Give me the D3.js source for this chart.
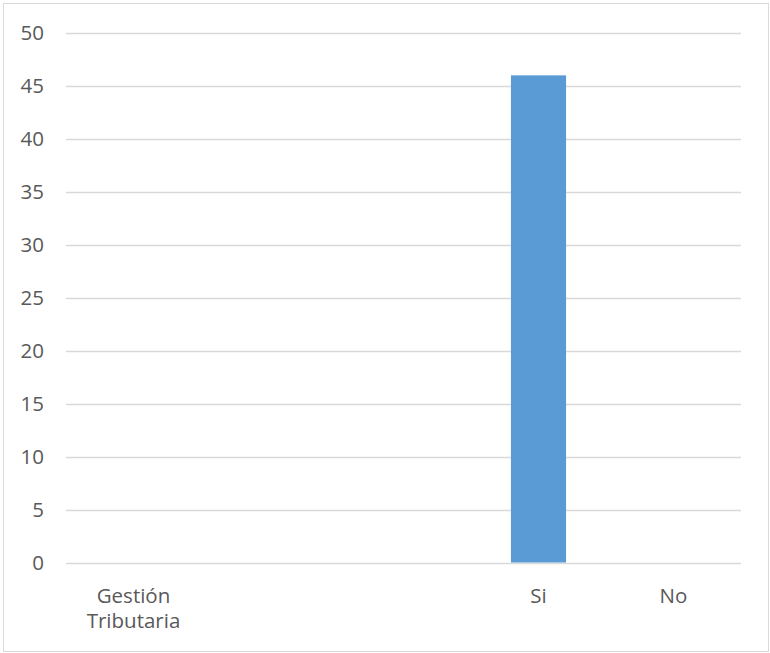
<!DOCTYPE html>
<html>
<head>
<meta charset="utf-8">
<script src="https://cdn.jsdelivr.net/npm/d3@7"></script>
<style>
  html, body { margin: 0; padding: 0; background: #fff; }
  svg text { font-family: "Open Sans", "Noto Sans", sans-serif; fill: #595959; }
</style>
</head>
<body>
<script>
// Survey result: answers to "Gestión Tributaria"
const categories = ["Gestión Tributaria", "", "", "Si", "No"];
const values = [0, 0, 0, 46, 0];
const yTicks = [0, 5, 10, 15, 20, 25, 30, 35, 40, 45, 50];

const width = 770, height = 653;
const margin = { top: 33, right: 29, bottom: 91, left: 66 };
const fontSize = 20.5;

const svg = d3.select("body").append("svg")
  .attr("width", width)
  .attr("height", height);

// outer chart frame
svg.append("rect")
  .attr("x", 3.5).attr("y", 3.5)
  .attr("width", 765).attr("height", 648)
  .attr("fill", "#fff")
  .attr("stroke", "#d9d9d9")
  .attr("stroke-width", 1);

const x = d3.scaleBand()
  .domain(d3.range(categories.length))
  .range([margin.left, width - margin.right])
  .paddingInner(0).paddingOuter(0);

const y = d3.scaleLinear()
  .domain([0, 50])
  .range([562.5, margin.top]);

// horizontal gridlines
svg.append("g")
  .selectAll("line")
  .data(yTicks)
  .join("line")
  .attr("x1", margin.left)
  .attr("x2", width - margin.right)
  .attr("y1", d => Math.round(y(d)) + 0.5)
  .attr("y2", d => Math.round(y(d)) + 0.5)
  .attr("stroke", "#d9d9d9")
  .attr("stroke-width", 1.3);

// y axis labels
const yAxis = d3.axisLeft(y).tickValues(yTicks).tickSize(0).tickPadding(0);
const gy = svg.append("g")
  .attr("transform", `translate(44,0)`)
  .call(yAxis);
gy.select(".domain").remove();
gy.selectAll("text")
  .attr("font-size", fontSize)
  .attr("fill", "#595959")
  .attr("font-family", "\"Open Sans\", sans-serif");

// bars
const barW = x.bandwidth() / 2.45;
svg.append("g")
  .selectAll("rect")
  .data(values.map((v, i) => ({ v, i })).filter(d => d.v > 0))
  .join("rect")
  .attr("x", d => x(d.i) + (x.bandwidth() - barW) / 2)
  .attr("width", barW)
  .attr("y", d => y(d.v))
  .attr("height", d => y(0) - y(d.v))
  .attr("fill", "#5b9bd5");

// category labels, one text element per wrapped line
const xl = svg.append("g");
categories.forEach((c, i) => {
  if (!c) return;
  c.split(" ").forEach((w, k) => {
    xl.append("text")
      .attr("x", x(i) + x.bandwidth() / 2)
      .attr("y", 603 + k * 24.5)
      .attr("text-anchor", "middle")
      .attr("font-size", fontSize)
      .text(w);
  });
});
</script>
</body>
</html>
